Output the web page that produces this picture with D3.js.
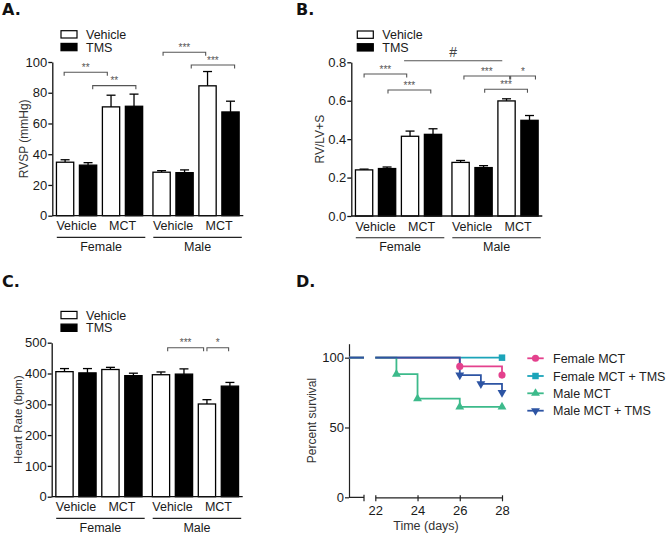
<!DOCTYPE html>
<html><head><meta charset="utf-8">
<script src="https://cdn.jsdelivr.net/npm/d3@7"></script>
<style>
body{margin:0;background:#fff}
text{font-family:"Liberation Sans",Arial,sans-serif;fill:#1a1a1a}
</style>
</head><body>
<svg id="chart" width="666" height="535"></svg>
<script>
// ---------------- DATA ----------------
const sexes = ["Female", "Male"];
const treatments = ["Vehicle", "MCT"];
const drugs = ["Vehicle", "TMS"];
const barKeys = ["Vehicle|Vehicle", "Vehicle|TMS", "MCT|Vehicle", "MCT|TMS"];

// Panel A: RVSP (mmHg), mean and SEM, order = barKeys
const rvspFemale = [34.8, 32.9, 70.8, 71.2];
const rvspFemaleErr = [1.6, 1.6, 7.6, 7.9];
const rvspMale = [28.3, 28.0, 84.5, 67.5];
const rvspMaleErr = [1.0, 1.8, 9.3, 7.0];
const rvspTicks = [0, 20, 40, 60, 80, 100];

// Panel B: RV/LV+S
const rvlvFemale = [0.240, 0.247, 0.415, 0.425];
const rvlvFemaleErr = [0.004, 0.008, 0.027, 0.029];
const rvlvMale = [0.279, 0.252, 0.599, 0.498];
const rvlvMaleErr = [0.010, 0.010, 0.011, 0.025];
const rvlvTicks = [0, 0.2, 0.4, 0.6, 0.8];

// Panel C: Heart rate (bpm)
const hrFemale = [406, 402, 413, 393];
const hrFemaleErr = [10, 14, 7, 8];
const hrMale = [396, 398, 301, 359];
const hrMaleErr = [9, 17, 14, 12];
const hrTicks = [0, 100, 200, 300, 400, 500];

// Significance annotations: [fromBar, toBar, label, level(in data units)]
const sigA = [[0.45, 2.3, "**", 93.3], [1.75, 3.6, "**", 84.6], [4.58, 6.4, "***", 106.3], [5.86, 7.72, "***", 98.0]];
const sigB = [[0.5, 2.32, "***", 0.739], [1.55, 3.38, "***", 0.656], [4.68, 6.67, "***", 0.729], [6.72, 7.82, "*", 0.729], [5.56, 7.39, "***", 0.660]];
const hashB = [2.18, 6.27, "#", 0.808];
const sigC = [[4.86, 6.32, "***", 483.8], [6.5, 7.43, "*", 483.8]];

// Panel D: survival
const survNames = ["Female MCT", "Female MCT + TMS", "Male MCT", "Male MCT + TMS"];
const survColors = ["#e4418d", "#1ba4b9", "#3dba8b", "#2d54a3"];
const survSymbols = ["circle", "square", "triangleUp", "triangleDown"];
const femaleMctDays = [0, 26, 28];
const femaleMctSurv = [100, 93.75, 87.5];
const femaleMctTmsDays = [0, 28];
const femaleMctTmsSurv = [100, 100];
const maleMctDays = [0, 23, 24, 26, 28];
const maleMctSurv = [100, 88.2, 70.6, 64.7, 64.7];
const maleMctTmsDays = [0, 26, 27, 28];
const maleMctTmsSurv = [100, 87.5, 81.25, 75];
const survTicksY = [0, 50, 100];
const survTicksX = [22, 24, 26, 28];

// ---------------- DRAWING ----------------
const svg = d3.select("#chart");
const AXC = "#111";
const FONT = '"Liberation Sans",Arial,sans-serif';

function panelTitle(txt, x, y) {
  svg.append("text").attr("x", x).attr("y", y).text(txt)
    .style("font-family", '"DejaVu Sans", sans-serif').style("font-weight", "bold")
    .style("font-size", "16px").style("fill", "#111");
}

function barPanel(cfg) {
  const g = svg.append("g");
  const y = d3.scaleLinear().domain(cfg.domain).range([cfg.y0, cfg.yTop]);
  const x0 = cfg.x0, W = 191;
  const xGroup = d3.scaleBand().domain(sexes).range([x0 + 3.5, x0 + 187.5]).paddingInner(0.0933).paddingOuter(0);
  const xBar = d3.scaleBand().domain(barKeys).range([0, xGroup.bandwidth()]).paddingInner(0.1915).paddingOuter(0);
  const bw = xBar.bandwidth();
  const rows = [];
  sexes.forEach((s, si) => barKeys.forEach((k, ki) => rows.push({
    sex: s, key: k, v: cfg.values[si][ki], e: cfg.errors[si][ki], drug: k.split("|")[1]
  })));
  const bx = d => xGroup(d.sex) + xBar(d.key);
  const pos = p => { const i = Math.floor(p); return bx(rows[i]) + (p - i) * bw; };

  // error bars
  g.selectAll(".err").data(rows).join("line")
    .attr("x1", d => bx(d) + bw / 2).attr("x2", d => bx(d) + bw / 2)
    .attr("y1", d => y(d.v)).attr("y2", d => y(d.v + d.e))
    .attr("stroke", "#000").attr("stroke-width", 1.3);
  g.selectAll(".cap").data(rows).join("line")
    .attr("x1", d => bx(d) + bw / 2 - 4.5).attr("x2", d => bx(d) + bw / 2 + 4.5)
    .attr("y1", d => y(d.v + d.e)).attr("y2", d => y(d.v + d.e))
    .attr("stroke", "#000").attr("stroke-width", 1.3);
  // bars
  g.selectAll(".bar").data(rows).join("rect")
    .attr("x", d => bx(d) + 0.65).attr("width", bw - 1.3)
    .attr("y", d => y(d.v)).attr("height", d => cfg.y0 - y(d.v))
    .attr("fill", d => d.drug === "TMS" ? "#000" : "#fff")
    .attr("stroke", "#000").attr("stroke-width", 1.3);

  // axes
  const ax = d3.axisLeft(y).tickValues(cfg.ticks).tickSize(4).tickPadding(1).tickSizeOuter(0);
  if (cfg.fmt) ax.tickFormat(cfg.fmt);
  const ag = g.append("g").attr("transform", `translate(${x0},0)`).call(ax);
  ag.attr("font-family", FONT);
  ag.select(".domain").attr("stroke", AXC).attr("stroke-width", 1.3);
  ag.selectAll(".tick line").attr("stroke", AXC).attr("stroke-width", 1.3);
  ag.selectAll(".tick text").style("font-size", "13px").style("font-family", FONT).attr("fill", "#111");
  g.append("line").attr("x1", x0).attr("x2", x0 + W).attr("y1", cfg.y0).attr("y2", cfg.y0)
    .attr("stroke", AXC).attr("stroke-width", 1.3);

  // y label
  g.append("text").attr("transform", `translate(${cfg.ylabX},${(cfg.y0 + cfg.yTop) / 2}) rotate(-90)`)
    .attr("text-anchor", "middle").style("font-size", cfg.ylabSize || "12px").style("fill", "#333").text(cfg.ylabel);

  // category labels
  sexes.forEach(s => {
    treatments.forEach((t, ti) => {
      const a = xGroup(s) + xBar(t + "|Vehicle"), b = xGroup(s) + xBar(t + "|TMS") + bw;
      g.append("text").attr("x", (a + b) / 2).attr("y", cfg.y0 + 14.5).attr("text-anchor", "middle")
        .style("font-size", "12.5px").text(t);
    });
    const gs = xGroup(s), ge = gs + xGroup.bandwidth();
    g.append("line").attr("x1", gs + 1).attr("x2", ge + 2).attr("y1", cfg.y0 + 21.7).attr("y2", cfg.y0 + 21.7)
      .attr("stroke", "#222").attr("stroke-width", 1.1);
    g.append("text").attr("x", (gs + ge) / 2 + 1.5).attr("y", cfg.y0 + 35.2).attr("text-anchor", "middle")
      .style("font-size", "12.5px").text(s);
  });

  // legend
  const ly = cfg.yTop - 31.3;
  drugs.forEach((d, i) => {
    g.append("rect").attr("x", cfg.legX).attr("y", ly + i * 12.7).attr("width", 16).attr("height", 7.3)
      .attr("fill", d === "TMS" ? "#000" : "#fff").attr("stroke", "#000").attr("stroke-width", 1.2);
    g.append("text").attr("x", cfg.legX + 25).attr("y", ly + i * 12.7 + 8.2)
      .style("font-size", "12.5px").text(d);
  });

  // significance brackets
  (cfg.sig || []).forEach(s => {
    const xa = pos(s[0]), xb = pos(s[1]), yy = y(s[3]);
    g.append("path").attr("d", `M${xa},${yy + 3.5}V${yy}H${xb}V${yy + 3.5}`)
      .attr("fill", "none").attr("stroke", "#555").attr("stroke-width", 1.1);
    g.append("text").attr("x", (xa + xb) / 2).attr("y", yy - 1.2).attr("text-anchor", "middle")
      .style("font-size", "10px").style("fill", "#555").text(s[2]);
  });
  if (cfg.hash) {
    const s = cfg.hash, xa = pos(s[0]), xb = pos(s[1]), yy = y(s[3]);
    g.append("line").attr("x1", xa).attr("x2", xb).attr("y1", yy).attr("y2", yy)
      .attr("stroke", "#555").attr("stroke-width", 1.1);
    g.append("text").attr("x", (xa + xb) / 2).attr("y", yy - 4).attr("text-anchor", "middle")
      .style("font-size", "14px").style("fill", "#444").text(s[2]);
  }
}

panelTitle("A.", 2, 15);
panelTitle("B.", 296, 15);
panelTitle("C.", 2, 287);
panelTitle("D.", 296, 287);

barPanel({
  x0: 52.3, y0: 215.7, yTop: 62, domain: [0, 100], ticks: rvspTicks,
  values: [rvspFemale, rvspMale], errors: [rvspFemaleErr, rvspMaleErr],
  ylabel: "RVSP (mmHg)", ylabX: 27.5, legX: 61, sig: sigA
});
barPanel({
  x0: 351.3, y0: 216, yTop: 62.3, domain: [0, 0.8], ticks: rvlvTicks, fmt: d3.format(".1f"),
  values: [rvlvFemale, rvlvMale], errors: [rvlvFemaleErr, rvlvMaleErr],
  ylabel: "RV/LV+S", ylabX: 324, legX: 357.3, sig: sigB, hash: hashB
});
barPanel({
  x0: 51.7, y0: 496.7, yTop: 342.7, domain: [0, 500], ticks: hrTicks,
  values: [hrFemale, hrMale], errors: [hrFemaleErr, hrMaleErr],
  ylabel: "Heart Rate (bpm)", ylabX: 22, ylabSize: "11.5px", legX: 61, sig: sigC
});

// ---- Panel D: survival ----
(function () {
  const g = svg.append("g");
  const x = d3.scaleLinear().domain([0, 21, 22, 28]).range([349, 364, 375.3, 502]);
  const y = d3.scaleLinear().domain([0, 110]).range([497.3, 343.7]);
  const series = [
    { days: femaleMctDays, surv: femaleMctSurv },
    { days: femaleMctTmsDays, surv: femaleMctTmsSurv },
    { days: maleMctDays, surv: maleMctSurv },
    { days: maleMctTmsDays, surv: maleMctTmsSurv }
  ].map((s, i) => ({ name: survNames[i], color: survColors[i], sym: survSymbols[i],
    pts: s.days.map((d, j) => ({ day: d, s: s.surv[j] })) }));

  const clip = svg.append("defs").append("clipPath").attr("id", "brk");
  clip.append("rect").attr("x", 340).attr("y", 330).attr("width", 364 - 340).attr("height", 180);
  clip.append("rect").attr("x", 375.3).attr("y", 330).attr("width", 140).attr("height", 180);

  const line = d3.line().x(d => x(d.day)).y(d => y(d.s)).curve(d3.curveStepAfter);
  const symbolOf = n => {
    if (n === "circle") return d3.symbol().type(d3.symbolCircle).size(40);
    if (n === "square") return d3.symbol().type(d3.symbolSquare).size(42);
    return d3.symbol().type(d3.symbolTriangle).size(34);
  };

  // axes
  const ay = d3.axisLeft(y).tickValues(survTicksY).tickSize(4).tickPadding(1).tickSizeOuter(0).tickFormat(d3.format("d"));
  const ayg = g.append("g").attr("transform", "translate(349,0)").call(ay);
  ayg.select(".domain").attr("stroke", "#222").attr("stroke-width", 1.2);
  ayg.selectAll(".tick line").attr("stroke", "#222").attr("stroke-width", 1.2);
  ayg.selectAll(".tick text").style("font-size", "13px").style("font-family", FONT).attr("fill", "#222");

  const x2 = d3.scaleLinear().domain([22, 28]).range([375.3, 502]);
  const ax = d3.axisBottom(x2).tickValues(survTicksX).tickSize(4).tickPadding(4).tickSizeOuter(0).tickFormat(d3.format("d"));
  const axg = g.append("g").attr("transform", `translate(0,${y(0)})`).call(ax);
  axg.select(".domain").attr("stroke", "#222").attr("stroke-width", 1.2);
  axg.selectAll(".tick line").attr("stroke", "#222").attr("stroke-width", 1.2).attr("y1", -2);
  axg.selectAll(".tick text").style("font-size", "13px").style("font-family", FONT).attr("fill", "#222");
  g.append("path").attr("d", `M349,${y(0)}H364M364,${y(0) - 2.5}V${y(0) + 4}`)
    .attr("stroke", "#222").attr("stroke-width", 1.2).attr("fill", "none");

  g.append("text").attr("x", 426).attr("y", 530).attr("text-anchor", "middle")
    .style("font-size", "12.5px").style("fill", "#333").text("Time (days)");
  g.append("text").attr("transform", `translate(316,${(y(0) + y(110)) / 2}) rotate(-90)`)
    .attr("text-anchor", "middle").style("font-size", "12px").style("fill", "#333").text("Percent survival");

  // lines (draw order: teal, pink, green, blue on top)
  const order = [1, 0, 2, 3];
  order.forEach(i => {
    const s = series[i];
    g.append("path").attr("d", line(s.pts)).attr("clip-path", "url(#brk)")
      .attr("fill", "none").attr("stroke", s.color).attr("stroke-width", 1.8);
  });
  order.forEach(i => {
    const s = series[i];
    g.selectAll(null).data(s.pts.filter(p => p.day > 0)).join("path")
      .attr("d", symbolOf(s.sym)())
      .attr("transform", p => `translate(${x(p.day)},${y(p.s)})${s.sym === "triangleDown" ? " rotate(180)" : ""}`)
      .attr("fill", s.color);
  });

  // legend
  const rowsY = [358.3, 376, 393.3, 410.7];
  series.forEach((s, i) => {
    g.append("line").attr("x1", 527.3).attr("x2", 543.7).attr("y1", rowsY[i]).attr("y2", rowsY[i])
      .attr("stroke", s.color).attr("stroke-width", 1.8);
    g.append("path").attr("d", symbolOf(s.sym)())
      .attr("transform", `translate(535.5,${rowsY[i]})${s.sym === "triangleDown" ? " rotate(180)" : ""}`)
      .attr("fill", s.color);
    g.append("text").attr("x", 553).attr("y", rowsY[i] + 4.5).style("font-size", "12.5px")
      .style("fill", "#222").text(s.name);
  });
})();
</script>
</body></html>
